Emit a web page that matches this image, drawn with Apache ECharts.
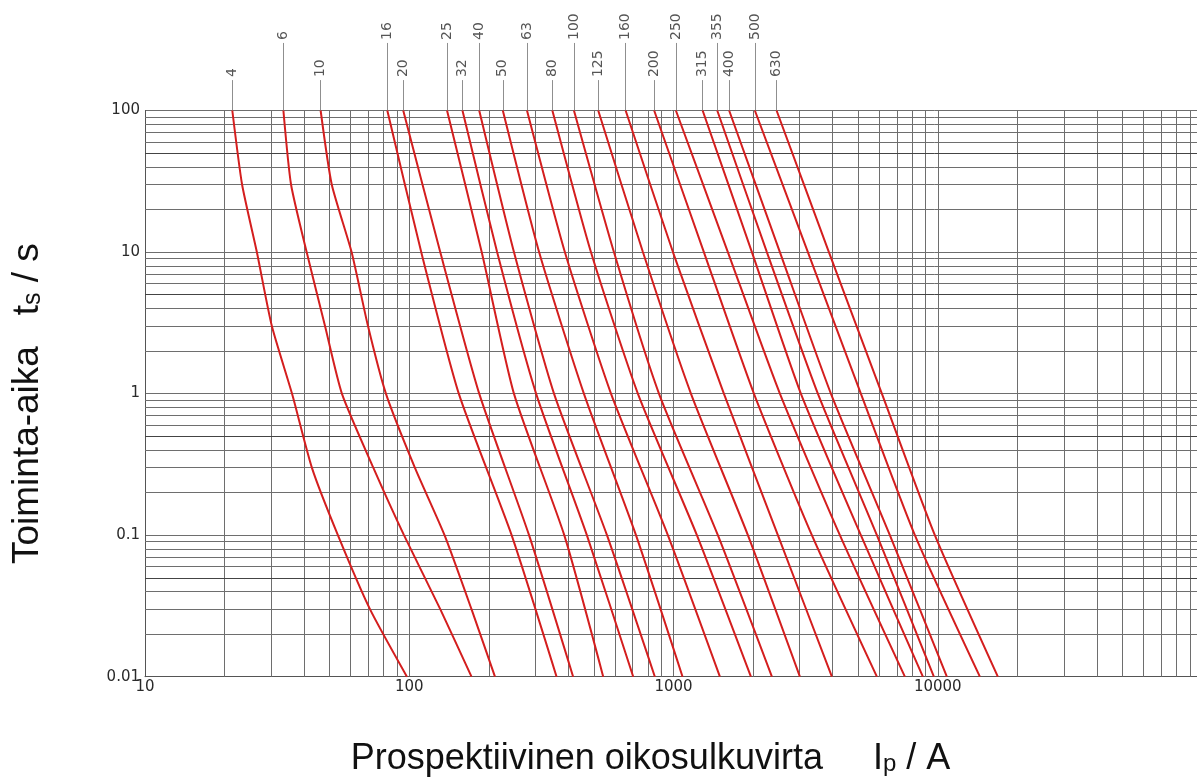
<!DOCTYPE html>
<html>
<head>
<meta charset="utf-8">
<script src="https://cdn.jsdelivr.net/npm/echarts@6/dist/echarts.min.js"></script>
<style>
html,body{margin:0;padding:0;background:#fff;}
#c{width:1197px;height:784px;}
</style>
</head>
<body>
<div id="c"></div>
<script>
// ---------- DATA ----------
const ratings = ['4','6','10','16','20','25','32','40','50','63','80','100','125','160','200','250','315','355','400','500','630'];
// operating times (s) at which the currents are read
const timesFine = [100, 30, 10, 3, 1, 0.3, 0.1, 0.03, 0.01];
const timesMain = [100, 10, 1, 0.1, 0.01];
// prospective short-circuit current (A) per fuse rating
const I_4   = [21.4, 23.3, 26.5, 30.2, 36.0, 42.8, 53.7, 71.0, 98.0];
const I_6   = [33.4, 35.7, 40.9, 48.0, 55.6, 73.1, 95.5, 131, 172];
const I_10  = [46.2, 50.9, 60.5, 69.8, 81.6, 105, 136, 172, 211];
const I_16  = [82.6, 111, 154, 244, 361];
const I_20  = [94.9, 131, 184, 284, 417];
const I_25  = [139, 188, 249, 386, 542];
const I_32  = [159, 215, 302, 470, 704];
const I_40  = [184, 249, 353, 560, 850];
const I_50  = [226, 310, 458, 721, 1082];
const I_63  = [279, 388, 580, 952, 1498];
const I_80  = [348, 487, 733, 1226, 1963];
const I_100 = [420, 595, 881, 1472, 2357];
const I_125 = [519, 766, 1164, 1912, 3008];
const I_160 = [659, 995, 1551, 2483, 3975];
const I_200 = [845, 1303, 2015, 3339, 5884];
const I_250 = [1021, 1606, 2527, 4262, 7508];
const I_315 = [1289, 1980, 3034, 5117, 8783];
const I_355 = [1464, 2256, 3518, 5884, 9667];
const I_400 = [1624, 2527, 3941, 6588, 10824];
const I_500 = [2032, 3225, 5117, 8192, 14433];
const I_630 = [2455, 3873, 6145, 9750, 16880];
// label rows above the plot (time value in the label strip where leader lines end)
const labelRow = ['low','high','low','high','low','high','low','high','low','high','low','high','low','high','low','high','low','high','low','high','low'];
const LABEL_T_LOW = 164;
const LABEL_T_HIGH = 300;
// axis ranges
const X_MIN = 10, X_MAX = 100000, Y_MIN = 0.01, Y_MAX = 100;

const currents = [I_4, I_6, I_10, I_16, I_20, I_25, I_32, I_40, I_50, I_63, I_80, I_100, I_125, I_160, I_200, I_250, I_315, I_355, I_400, I_500, I_630];
const timeSets = [timesFine, timesFine, timesFine].concat(new Array(18).fill(timesMain));

// ---------- LAYOUT / STYLE ----------
const H = 784;
const GRID_LEFT = 145, GRID_RIGHT = -5, GRID_TOP = 110.5, GRID_BOTTOM = 107.3;
const decadePx = (H - GRID_TOP - GRID_BOTTOM) / Math.log10(Y_MAX / Y_MIN);
const STRIP_MAX = Y_MAX * Math.pow(10, GRID_TOP / decadePx);
const RED = '#d41e1e';
const GRID_COLOR = '#6e6e6e';
const GRID_DARK = '#444444';
const TEXT = '#2a2a2a';

// gridline values (2..9 per decade)
const minorX = [], minorY = [], fiveY = [];
for (let e = 1; e < 5; e++) for (let k = 2; k <= 9; k++) minorX.push(k * Math.pow(10, e));
for (let e = -2; e < 2; e++) for (let k = 2; k <= 9; k++) {
  const v = k * Math.pow(10, e);
  (k === 5 ? fiveY : minorY).push(v);
}

const series = [];
series.push({
  type: 'lines', coordinateSystem: 'cartesian2d', xAxisIndex: 0, yAxisIndex: 0,
  silent: true, z: 1, symbol: ['none', 'none'],
  lineStyle: { color: GRID_COLOR, width: 1, opacity: 1, curveness: 0 },
  data: minorX.map(v => ({ coords: [[v, Y_MIN], [v, Y_MAX]] }))
    .concat(minorY.map(v => ({ coords: [[X_MIN, v], [X_MAX, v]] })))
});
series.push({
  type: 'lines', coordinateSystem: 'cartesian2d', xAxisIndex: 0, yAxisIndex: 0,
  silent: true, z: 1, symbol: ['none', 'none'],
  lineStyle: { color: GRID_DARK, width: 1, opacity: 1, curveness: 0 },
  data: fiveY.map(v => ({ coords: [[X_MIN, v], [X_MAX, v]] }))
});

ratings.forEach((r, i) => {
  series.push({
    name: r, type: 'line', xAxisIndex: 0, yAxisIndex: 0, z: 3,
    showSymbol: false, symbol: 'none', smooth: 0.2, silent: true,
    lineStyle: { color: RED, width: 2 },
    data: currents[i].map((v, j) => [v, timeSets[i][j]])
  });
});

// leader lines & rating labels in the strip above the plot
series.push({
  type: 'lines', coordinateSystem: 'cartesian2d', xAxisIndex: 1, yAxisIndex: 1,
  silent: true, z: 2, symbol: ['none', 'none'],
  lineStyle: { color: '#8f8f8f', width: 1, opacity: 1, curveness: 0 },
  data: ratings.map((r, i) => ({
    coords: [[currents[i][0], Y_MAX], [currents[i][0], labelRow[i] === 'low' ? LABEL_T_LOW : LABEL_T_HIGH]]
  }))
});
series.push({
  type: 'scatter', xAxisIndex: 1, yAxisIndex: 1, silent: true, z: 4,
  symbolSize: 0,
  label: {
    show: true, position: 'top', distance: 3, rotate: 90,
    align: 'left', verticalAlign: 'middle', formatter: '{b}',
    fontFamily: 'DejaVu Sans', fontSize: 14, color: TEXT
  },
  data: ratings.map((r, i) => ({
    name: r,
    value: [currents[i][0], labelRow[i] === 'low' ? LABEL_T_LOW : LABEL_T_HIGH]
  }))
});

const chart = echarts.init(document.getElementById('c'), null, { renderer: 'canvas' });
chart.setOption({
  animation: false,
  backgroundColor: '#ffffff',
  grid: [
    { left: GRID_LEFT, right: GRID_RIGHT, top: GRID_TOP, bottom: GRID_BOTTOM, containLabel: false, outerBoundsMode: 'none' },
    { left: GRID_LEFT, right: GRID_RIGHT, top: 0, bottom: H - GRID_TOP, containLabel: false, outerBoundsMode: 'none' }
  ],
  xAxis: [
    {
      type: 'log', logBase: 10, min: X_MIN, max: X_MAX, gridIndex: 0,
      axisLine: { show: true, lineStyle: { color: '#555', width: 1 } },
      axisTick: { show: false },
      splitLine: { show: true, lineStyle: { color: GRID_COLOR, width: 1 } },
      axisLabel: {
        show: true, margin: 3, showMaxLabel: false,
        fontFamily: 'DejaVu Sans', fontSize: 15, color: TEXT,
        formatter: v => String(Math.round(v))
      },
      name: 'Prospektiivinen oikosulkuvirta     I{sub|p} / A',
      nameLocation: 'middle', nameGap: 64, nameMoveOverlap: false,
      nameTextStyle: {
        fontFamily: 'Liberation Sans', fontSize: 36, color: '#111',
        padding: [0, 46, 0, 0],
        rich: { sub: { fontFamily: 'Liberation Sans', fontSize: 24, color: '#111', verticalAlign: 'bottom' } }
      }
    },
    { type: 'log', logBase: 10, min: X_MIN, max: X_MAX, gridIndex: 1, show: false }
  ],
  yAxis: [
    {
      type: 'log', logBase: 10, min: Y_MIN, max: Y_MAX, gridIndex: 0,
      axisLine: { show: true, lineStyle: { color: '#555', width: 1 } },
      axisTick: { show: false },
      splitLine: { show: true, lineStyle: { color: GRID_COLOR, width: 1 } },
      axisLabel: {
        show: true, margin: 5,
        fontFamily: 'DejaVu Sans', fontSize: 15, color: TEXT,
        formatter: v => String(parseFloat(v.toPrecision(3)))
      },
      name: 'Toiminta-aika   t{sub|s} / s',
      nameLocation: 'middle', nameRotate: 90, nameGap: 99, nameMoveOverlap: false,
      nameTextStyle: {
        fontFamily: 'Liberation Sans', fontSize: 37, color: '#111',
        padding: [0, 20, 0, 0],
        rich: { sub: { fontFamily: 'Liberation Sans', fontSize: 25, color: '#111', verticalAlign: 'bottom' } }
      }
    },
    { type: 'log', logBase: 10, min: Y_MAX, max: STRIP_MAX, gridIndex: 1, show: false }
  ],
  series: series
});
</script>
</body>
</html>
